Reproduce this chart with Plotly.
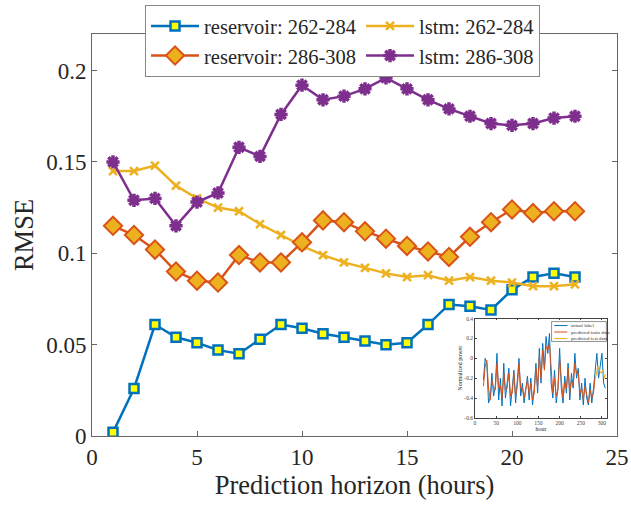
import plotly.graph_objects as go

# ---------------- main data ----------------
horizon = list(range(1, 24))
res_262 = [0.002, 0.026, 0.061, 0.054, 0.051, 0.047, 0.045, 0.053, 0.061, 0.059, 0.056, 0.054,
           0.052, 0.050, 0.051, 0.061, 0.072, 0.071, 0.069, 0.080, 0.087, 0.089, 0.087]
res_286 = [0.115, 0.110, 0.102, 0.090, 0.085, 0.084, 0.099, 0.095, 0.095, 0.106, 0.118, 0.117,
           0.112, 0.108, 0.104, 0.101, 0.098, 0.109, 0.117, 0.124, 0.122, 0.123, 0.123]
lstm_262 = [0.145, 0.145, 0.148, 0.137, 0.130, 0.125, 0.123, 0.116, 0.110, 0.104, 0.099, 0.095,
            0.092, 0.089, 0.087, 0.088, 0.085, 0.087, 0.085, 0.084, 0.082, 0.082, 0.083]
lstm_286 = [0.150, 0.129, 0.130, 0.115, 0.128, 0.133, 0.158, 0.153, 0.176, 0.192, 0.184, 0.186,
            0.190, 0.196, 0.190, 0.184, 0.179, 0.175, 0.171, 0.170, 0.171, 0.174, 0.175]

x_ticks = [0, 5, 10, 15, 20, 25]
y_ticks = [0, 0.05, 0.1, 0.15, 0.2]
y_tick_text = ["0", "0.05", "0.1", "0.15", "0.2"]

# ---------------- inset data ----------------
hours_actual = list(range(20, 309, 4))
actual = [-0.22, 0.0, -0.05, -0.45, -0.40, -0.15, -0.38, -0.28, 0.05, -0.42, -0.20, -0.48,
          -0.05, -0.40, -0.25, -0.10, -0.48, -0.30, -0.12, -0.45, -0.22, 0.0, -0.38, -0.25,
          -0.45, -0.30, -0.18, -0.42, -0.20, -0.47, -0.30, -0.05, -0.35, 0.10, -0.25, 0.15,
          -0.10, 0.22, 0.05, 0.25, -0.25, -0.40, -0.12, -0.45, -0.30, 0.10, -0.30, -0.45,
          -0.18, -0.35, -0.05, -0.42, -0.15, -0.30, 0.05, -0.20, -0.10, -0.42, -0.25, -0.47,
          -0.20, -0.40, -0.47, -0.25, -0.45, -0.30, -0.10, 0.05, -0.20, -0.05, 0.05, -0.25, -0.30]
hours_train = list(range(20, 285, 4))
train_pred = [-0.28, -0.08, -0.02, -0.30, -0.42, -0.22, -0.30, -0.32, -0.05, -0.30, -0.28, -0.40,
              -0.15, -0.32, -0.30, -0.15, -0.38, -0.35, -0.15, -0.38, -0.28, -0.05, -0.30, -0.30,
              -0.40, -0.32, -0.22, -0.36, -0.25, -0.42, -0.35, -0.10, -0.30, 0.02, -0.20, 0.08,
              -0.12, 0.12, 0.08, 0.15, -0.12, -0.35, -0.20, -0.38, -0.32, 0.0, -0.22, -0.40,
              -0.25, -0.30, -0.10, -0.35, -0.22, -0.28, -0.05, -0.15, -0.15, -0.35, -0.30, -0.42,
              -0.28, -0.35, -0.45, -0.32, -0.40, -0.35, -0.18]
hours_test = [286, 290, 294, 298, 302, 306, 308]
test_pred = [-0.18, -0.08, -0.12, -0.15, -0.12, -0.20, -0.16]
inset_names = ["actual label", "predicted train data", "predicted test data"]

BLUE, ORANGE, YELLOW, PURPLE = "#0072BD", "#D95319", "#EDB120", "#7E2F8E"
FONT = "Liberation Serif, Times New Roman, DejaVu Serif, serif"

fig = go.Figure()
fig.add_trace(go.Scatter(x=horizon, y=res_262, name="reservoir: 262-284", mode="lines+markers",
                         line=dict(color=BLUE, width=2.5),
                         marker=dict(symbol="square", size=9, color="#FFFF00",
                                     line=dict(color=BLUE, width=2.5))))
fig.add_trace(go.Scatter(x=horizon, y=lstm_262, name="lstm: 262-284", mode="lines+markers",
                         line=dict(color=YELLOW, width=2.5),
                         marker=dict(symbol="x-thin-open", size=8, color=YELLOW,
                                     line=dict(color=YELLOW, width=2.5))))
fig.add_trace(go.Scatter(x=horizon, y=res_286, name="reservoir: 286-308", mode="lines+markers",
                         line=dict(color=ORANGE, width=2.5),
                         marker=dict(symbol="diamond", size=14, color=YELLOW,
                                     line=dict(color=ORANGE, width=2))))
fig.add_trace(go.Scatter(x=horizon, y=lstm_286, name="lstm: 286-308", mode="lines+markers",
                         line=dict(color=PURPLE, width=2.5),
                         marker=dict(symbol="asterisk-open", size=11, color=PURPLE,
                                     line=dict(color=PURPLE, width=3.5))))

# inset traces
inset_colors = [BLUE, ORANGE, YELLOW]
for xs, ys, nm, c in zip([hours_actual, hours_train, hours_test],
                         [actual, train_pred, test_pred], inset_names, inset_colors):
    fig.add_trace(go.Scatter(x=xs, y=ys, name=nm, mode="lines", showlegend=False,
                             line=dict(color=c, width=1), xaxis="x2", yaxis="y2"))

axis_common = dict(showline=True, linecolor="#666666", linewidth=1, mirror="ticks",
                   ticks="inside", ticklen=5, tickcolor="#666666", showgrid=False,
                   zeroline=False, automargin=False)
inset_axis = dict(showline=True, linecolor="#444", linewidth=0.6, mirror="ticks",
                  ticks="inside", ticklen=2, tickcolor="#444", showgrid=False,
                  zeroline=False, automargin=False, tickfont=dict(size=5.5, color="#444"))

fig.update_layout(
    width=631, height=505,
    margin=dict(l=92, r=14, t=34, b=69, autoexpand=False),
    plot_bgcolor="white", paper_bgcolor="white",
    font=dict(family=FONT, color="#262626", size=21),
    xaxis=dict(range=[0, 25], tickvals=x_ticks, domain=[0, 1],
               title=dict(text="Prediction horizon (hours)", font=dict(size=26.5), standoff=0),
               tickfont=dict(size=23), **axis_common),
    yaxis=dict(range=[0, 0.22], tickvals=y_ticks, ticktext=y_tick_text, domain=[0, 1],
               title=dict(text="RMSE", font=dict(size=26.5), standoff=4),
               tickfont=dict(size=23), **axis_common),
    xaxis2=dict(domain=[0.7295, 0.981], anchor="y2", range=[0, 312],
                tickvals=[0, 50, 100, 150, 200, 250, 300],
                title=dict(text="hour", font=dict(size=6), standoff=0), **inset_axis),
    yaxis2=dict(domain=[0.045, 0.292], anchor="x2", range=[-0.6, 0.4],
                tickvals=[-0.6, -0.4, -0.2, 0, 0.2, 0.4],
                ticktext=["-0.6", "-0.4", "-0.2", "0", "0.2", "0.4"],
                title=dict(text="Normalized power", font=dict(size=6), standoff=1), **inset_axis),
    legend=dict(orientation="h", x=0.101, y=1.072, xanchor="left", yanchor="top",
                bgcolor="white", bordercolor="#888888", borderwidth=1,
                font=dict(size=20.5, family=FONT, color="#262626"),
                tracegroupgap=0, itemwidth=48),
)

# inset legend box (decoration) in inset-axes domain coordinates
fig.add_shape(type="rect", xref="x2 domain", yref="y2 domain", x0=0.58, x1=0.995, y0=0.77, y1=0.97,
              fillcolor="white", line=dict(color="#444", width=0.6), layer="above")
for i, (nm, c) in enumerate(zip(inset_names, inset_colors)):
    yy = 0.93 - i * 0.065
    fig.add_shape(type="line", xref="x2 domain", yref="y2 domain", x0=0.60, x1=0.70, y0=yy, y1=yy,
                  line=dict(color=c, width=1), layer="above")
    fig.add_annotation(xref="x2 domain", yref="y2 domain", x=0.71, y=yy, text=nm,
                       showarrow=False, xanchor="left", yanchor="middle",
                       font=dict(size=5, color="#333", family=FONT))

fig.write_html("out.html", config={"displayModeBar": False},
               post_script="document.body.style.margin='0';document.body.style.padding='0';")
